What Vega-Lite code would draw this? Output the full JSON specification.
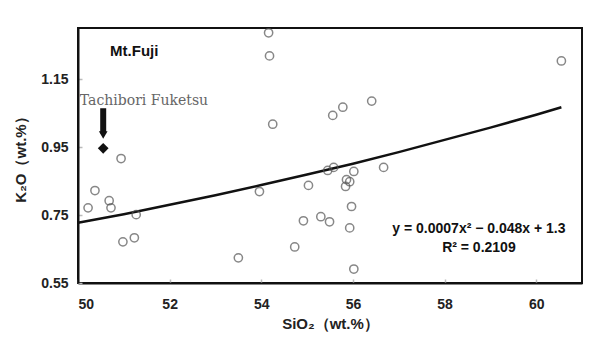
{
  "$schema": "https://vega.github.io/schema/vega-lite/v6.json",
  "width": 504,
  "height": 255,
  "autosize": {"type": "none"},
  "padding": {"left": 78, "top": 28, "right": 15, "bottom": 55},
  "background": "white",
  "config": {
    "view": {"stroke": "#111", "strokeWidth": 2},
    "font": "Liberation Sans"
  },
  "datasets": {
    "samples": [
      {"SiO2": 54.16, "K2O": 1.286}, {"SiO2": 54.18, "K2O": 1.218}, {"SiO2": 54.25, "K2O": 1.017},
      {"SiO2": 50.94, "K2O": 0.916}, {"SiO2": 60.55, "K2O": 1.203}, {"SiO2": 55.56, "K2O": 1.043},
      {"SiO2": 55.78, "K2O": 1.067}, {"SiO2": 56.41, "K2O": 1.085}, {"SiO2": 50.37, "K2O": 0.822},
      {"SiO2": 50.22, "K2O": 0.771}, {"SiO2": 50.68, "K2O": 0.792}, {"SiO2": 50.72, "K2O": 0.771},
      {"SiO2": 51.27, "K2O": 0.751}, {"SiO2": 50.98, "K2O": 0.671}, {"SiO2": 51.23, "K2O": 0.683},
      {"SiO2": 53.5, "K2O": 0.624}, {"SiO2": 53.96, "K2O": 0.819}, {"SiO2": 55.45, "K2O": 0.881},
      {"SiO2": 55.58, "K2O": 0.89}, {"SiO2": 56.02, "K2O": 0.878}, {"SiO2": 56.67, "K2O": 0.89},
      {"SiO2": 55.03, "K2O": 0.837}, {"SiO2": 55.86, "K2O": 0.854}, {"SiO2": 55.93, "K2O": 0.848},
      {"SiO2": 55.84, "K2O": 0.834}, {"SiO2": 55.97, "K2O": 0.775}, {"SiO2": 54.92, "K2O": 0.733},
      {"SiO2": 55.3, "K2O": 0.745}, {"SiO2": 55.49, "K2O": 0.73}, {"SiO2": 55.93, "K2O": 0.712},
      {"SiO2": 54.73, "K2O": 0.656}, {"SiO2": 56.02, "K2O": 0.591}
    ],
    "fit": [
      {"SiO2": 50, "K2O": 0.727}, {"SiO2": 51, "K2O": 0.752}, {"SiO2": 52, "K2O": 0.78},
      {"SiO2": 53, "K2O": 0.808}, {"SiO2": 54, "K2O": 0.838}, {"SiO2": 55, "K2O": 0.869},
      {"SiO2": 56, "K2O": 0.901}, {"SiO2": 57, "K2O": 0.935}, {"SiO2": 58, "K2O": 0.971},
      {"SiO2": 59, "K2O": 1.007}, {"SiO2": 60, "K2O": 1.045}, {"SiO2": 60.55, "K2O": 1.067}
    ],
    "tachibori": [{"SiO2": 50.55, "K2O": 0.946}]
  },
  "layer": [
    {
      "data": {"name": "fit"},
      "mark": {"type": "line", "color": "#111", "strokeWidth": 2.5},
      "encoding": {
        "x": {
          "field": "SiO2", "type": "quantitative",
          "scale": {"domain": [50, 61], "nice": false, "zero": false},
          "axis": {
            "title": "SiO₂（wt.%）",
            "values": [50, 52, 54, 56, 58, 60],
            "grid": false,
            "domainColor": "#111", "domainWidth": 2,
            "tickColor": "#bbb", "tickSize": -4, "tickWidth": 1.5,
            "labelFont": "Liberation Sans", "labelFontSize": 14, "labelFontWeight": "bold",
            "labelColor": "#222", "labelPadding": 18,
            "titleFont": "Liberation Sans", "titleFontSize": 15, "titleFontWeight": "bold",
            "titleColor": "#222", "titlePadding": 5
          }
        },
        "y": {
          "field": "K2O", "type": "quantitative",
          "scale": {"domain": [0.55, 1.3], "nice": false, "zero": false},
          "axis": {
            "title": "K₂O（wt.%）",
            "values": [0.55, 0.75, 0.95, 1.15],
            "format": ".2f",
            "grid": false,
            "domainColor": "#111", "domainWidth": 2,
            "tickColor": "#bbb", "tickSize": -4, "tickWidth": 1.5,
            "labelFont": "Liberation Sans", "labelFontSize": 14, "labelFontWeight": "bold",
            "labelColor": "#222", "labelPadding": 14,
            "titleFont": "Liberation Sans", "titleFontSize": 15, "titleFontWeight": "bold",
            "titleColor": "#222", "titlePadding": 12
          }
        }
      }
    },
    {
      "data": {"name": "samples"},
      "mark": {"type": "point", "shape": "circle", "filled": false, "stroke": "#555", "strokeWidth": 1.5, "size": 68},
      "encoding": {
        "x": {"field": "SiO2", "type": "quantitative"},
        "y": {"field": "K2O", "type": "quantitative"}
      }
    },
    {
      "data": {"name": "tachibori"},
      "mark": {"type": "point", "shape": "diamond", "filled": true, "color": "#111", "opacity": 1, "size": 115},
      "encoding": {
        "x": {"field": "SiO2", "type": "quantitative"},
        "y": {"field": "K2O", "type": "quantitative"}
      }
    },
    {
      "data": {"values": [{"x": 50.55, "y": 1.064, "y2": 0.99}]},
      "mark": {"type": "rule", "color": "#111", "strokeWidth": 6},
      "encoding": {
        "x": {"field": "x", "type": "quantitative"},
        "y": {"field": "y", "type": "quantitative"},
        "y2": {"field": "y2"}
      }
    },
    {
      "data": {"values": [{"x": 50.55, "y": 0.985}]},
      "mark": {"type": "point", "shape": "triangle-down", "filled": true, "color": "#111", "opacity": 1, "size": 75},
      "encoding": {
        "x": {"field": "x", "type": "quantitative"},
        "y": {"field": "y", "type": "quantitative"}
      }
    },
    {
      "data": {"values": [
        {"x": 50.7, "y": 1.218, "label": "Mt.Fuji"}
      ]},
      "mark": {"type": "text", "align": "left", "baseline": "alphabetic", "font": "Liberation Sans", "fontSize": 15, "fontWeight": "bold", "color": "#111"},
      "encoding": {
        "x": {"field": "x", "type": "quantitative"},
        "y": {"field": "y", "type": "quantitative"},
        "text": {"field": "label"}
      }
    },
    {
      "data": {"values": [{"x": 50.04, "y": 1.073, "label": "Tachibori Fuketsu"}]},
      "mark": {"type": "text", "align": "left", "baseline": "alphabetic", "font": "DejaVu Serif", "fontSize": 14, "color": "#666"},
      "encoding": {
        "x": {"field": "x", "type": "quantitative"},
        "y": {"field": "y", "type": "quantitative"},
        "text": {"field": "label"}
      }
    },
    {
      "data": {"values": [
        {"x": 58.75, "y": 0.71, "label": "y = 0.0007x² − 0.048x + 1.3"},
        {"x": 58.75, "y": 0.653, "label": "R² = 0.2109"}
      ]},
      "mark": {"type": "text", "align": "center", "baseline": "middle", "font": "Liberation Sans", "fontSize": 14, "fontWeight": "bold", "color": "#111"},
      "encoding": {
        "x": {"field": "x", "type": "quantitative"},
        "y": {"field": "y", "type": "quantitative"},
        "text": {"field": "label"}
      }
    }
  ]
}
